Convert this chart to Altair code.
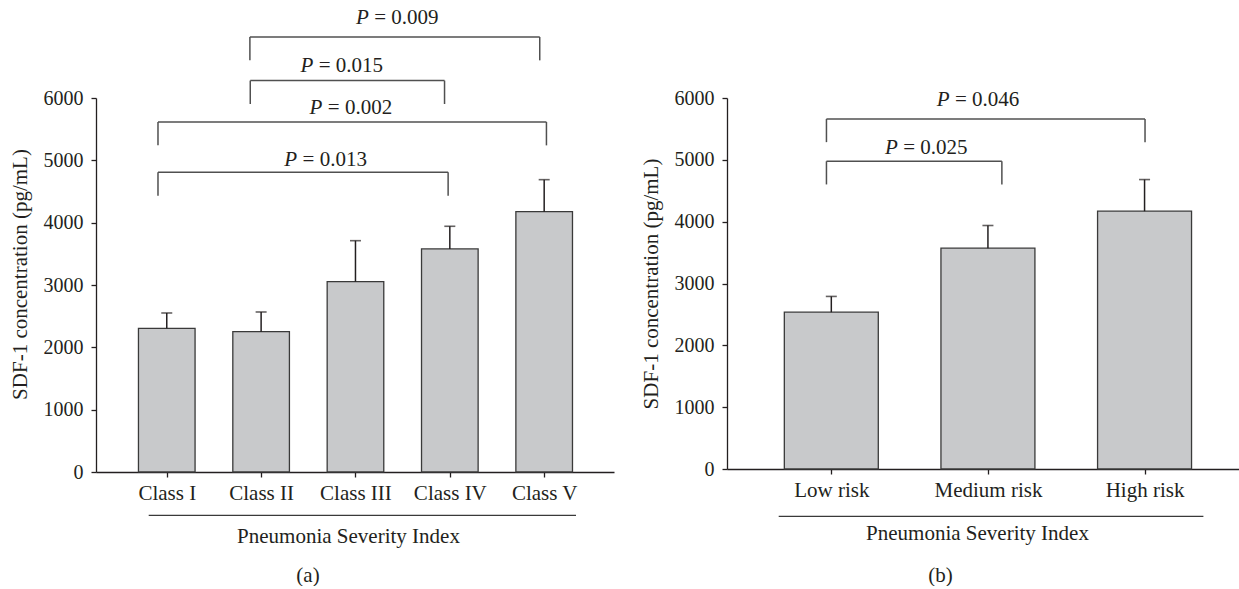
import altair as alt
import pandas as pd

FONT = "Liberation Serif"
INK = "#231f20"
BAR_FILL = "#c8c9cb"
BRACKET = "#505050"

# ---------------- data: panel (a) ----------------
classes = ["Class I", "Class II", "Class III", "Class IV", "Class V"]
class_mean = [2305, 2251, 3053, 3578, 4176]
class_upper = [2551, 2567, 3711, 3942, 4690]   # mean + SD

a_p_values = ["0.013", "0.002", "0.015", "0.009"]
a_from = ["Class I", "Class I", "Class II", "Class II"]
a_to = ["Class IV", "Class V", "Class IV", "Class V"]
a_level = [4808, 5615, 6279, 6979]
a_text_level = [4911, 5737, 6421, 7191]
a_nudge_from = [-0.093, -0.093, -0.115, -0.119]
a_nudge_to = [-0.018, 0.024, -0.056, -0.047]
a_text_pos = [1.683, 1.951, 1.854, 2.442]

# ---------------- data: panel (b) ----------------
risks = ["Low risk", "Medium risk", "High risk"]
risk_mean = [2536, 3571, 4169]
risk_upper = [2791, 3938, 4681]

b_p_values = ["0.046", "0.025"]
b_from = ["Low risk", "Low risk"]
b_to = ["High risk", "Medium risk"]
b_level = [5661, 4977]
b_text_level = [5866, 5090]
b_nudge_from = [-0.031, -0.031]
b_nudge_to = [0.003, 0.089]
b_text_pos = [0.936, 0.606]

y_ticks = [0, 1000, 2000, 3000, 4000, 5000, 6000]
LEG = 375
FS = 21


def panel(names, means, uppers, p_values, b_fr, b_t, level, text_level,
          nud_f, nud_t, text_pos, x_domain, width, height, ytitle_y,
          line_x, line_x2, line_y, xtitle_x, tag, tag_x, tag_y):
    idx = list(range(len(names)))
    bars = pd.DataFrame({"idx": idx, "name": names, "mean": means, "upper": uppers})
    label_expr = "[" + ",".join("'" + n + "'" for n in names) + "][datum.value]"

    xscale = alt.Scale(domain=x_domain, nice=False, zero=False)
    yscale = alt.Scale(domain=[0, 6000], nice=False)
    xaxis = alt.Axis(values=idx, labelExpr=label_expr, title="Pneumonia Severity Index",
                     titleX=xtitle_x, titleY=70, titleAlign="center",
                     titleBaseline="alphabetic", labelPadding=5, labelFontSize=FS)
    yaxis_kw = dict(values=y_ticks, format="d", title="SDF-1 concentration (pg/mL)",
                    titleX=-76, titleAlign="center", titleBaseline="middle",
                    labelPadding=8, labelFontSize=20)
    if ytitle_y is not None:
        yaxis_kw["titleY"] = ytitle_y
    yaxis = alt.Axis(**yaxis_kw)

    base = alt.Chart(bars)
    rect = base.transform_calculate(
        x0="datum.idx - 0.3", x1="datum.idx + 0.3", zero="0"
    ).mark_rect(fill=BAR_FILL, stroke="#3a3a3a", strokeWidth=1.3).encode(
        x=alt.X("x0:Q", scale=xscale, axis=xaxis),
        x2="x1:Q",
        y=alt.Y("mean:Q", scale=yscale, axis=yaxis),
        y2="zero:Q",
    )
    err = base.mark_rule(color=INK, strokeWidth=1.5).encode(
        x=alt.X("idx:Q", scale=xscale, axis=xaxis),
        y=alt.Y("mean:Q", scale=yscale, axis=yaxis),
        y2="upper:Q",
    )
    cap = base.mark_tick(orient="horizontal", size=11, thickness=1.6, color=INK).encode(
        x=alt.X("idx:Q", scale=xscale, axis=xaxis),
        y=alt.Y("upper:Q", scale=yscale, axis=yaxis),
    )

    pos = {n: i for i, n in enumerate(names)}
    br = pd.DataFrame({
        "xl": [pos[f] + d for f, d in zip(b_fr, nud_f)],
        "xr": [pos[t] + d for t, d in zip(b_t, nud_t)],
        "lvl": level,
        "tx": text_pos,
        "ty": text_level,
        "eq": ["= " + p for p in p_values],
    })
    bbase = alt.Chart(br).transform_calculate(leg="datum.lvl - %d" % LEG)
    hline = bbase.mark_rule(color=BRACKET, strokeWidth=1.5).encode(
        x=alt.X("xl:Q", scale=xscale, axis=xaxis), x2="xr:Q",
        y=alt.Y("lvl:Q", scale=yscale, axis=yaxis))
    legl = bbase.mark_rule(color=BRACKET, strokeWidth=1.5).encode(
        x=alt.X("xl:Q", scale=xscale, axis=xaxis),
        y=alt.Y("lvl:Q", scale=yscale, axis=yaxis), y2="leg:Q")
    legr = bbase.mark_rule(color=BRACKET, strokeWidth=1.5).encode(
        x=alt.X("xr:Q", scale=xscale, axis=xaxis),
        y=alt.Y("lvl:Q", scale=yscale, axis=yaxis), y2="leg:Q")
    ptxt = bbase.mark_text(text="P", font=FONT, fontSize=FS, fontStyle="italic",
                           align="right", baseline="alphabetic", dx=-28.4, color=INK).encode(
        x=alt.X("tx:Q", scale=xscale, axis=xaxis),
        y=alt.Y("ty:Q", scale=yscale, axis=yaxis))
    vtxt = bbase.mark_text(font=FONT, fontSize=FS, align="left", baseline="alphabetic",
                           dx=-23, color=INK).encode(
        x=alt.X("tx:Q", scale=xscale, axis=xaxis),
        y=alt.Y("ty:Q", scale=yscale, axis=yaxis),
        text="eq:N")

    one = alt.Chart(pd.DataFrame({"k": [0]}))
    under = one.mark_rule(color="#3a3a3a", strokeWidth=1.3).encode(
        x=alt.value(line_x), x2=alt.value(line_x2), y=alt.value(line_y))
    tagm = one.mark_text(text=tag, font=FONT, fontSize=FS, align="center",
                         baseline="alphabetic", color=INK).encode(
        x=alt.value(tag_x), y=alt.value(tag_y))

    return alt.layer(rect, err, cap, hline, legl, legr, ptxt, vtxt, under, tagm).properties(
        width=width, height=height)


left = panel(classes, class_mean, class_upper, a_p_values, a_from, a_to, a_level,
             a_text_level, a_nudge_from, a_nudge_to, a_text_pos,
             [-0.75, 4.74], 518, 374, 176, 52.7, 480, 417.3, 252, "(a)", 212, 484)
right = panel(risks, risk_mean, risk_upper, b_p_values, b_from, b_to, b_level,
              b_text_level, b_nudge_from, b_nudge_to, b_text_pos,
              [-0.666, 2.603], 512, 371, None, 51.7, 476.4, 418.3, 250, "(b)", 213.4, 484)

chart = alt.hconcat(left, right, spacing=26).properties(
    padding={"left": 9, "top": 6, "right": 0, "bottom": 0},
    background="white",
).configure_view(stroke=None).configure_axis(
    grid=False,
    domainColor=INK, domainWidth=1.3,
    tickColor=INK, tickSize=5, tickWidth=1.3,
    labelFont=FONT, labelColor=INK,
    titleFont=FONT, titleFontSize=FS, titleFontWeight="normal", titleColor=INK,
)

chart.save("out.html", embed_options={"renderer": "svg", "actions": False})
